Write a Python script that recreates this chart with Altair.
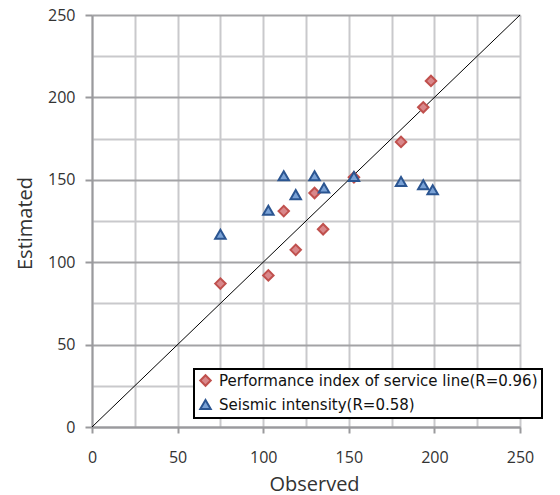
import altair as alt
import pandas as pd

series_names = ["Performance index of service line(R=0.96)", "Seismic intensity(R=0.58)"]
perf_observed = [75, 103, 112, 119, 130, 135, 153, 180.5, 193.5, 198]
perf_estimated = [87, 92, 131, 107.5, 142, 120, 151.5, 173, 194, 210]
seis_observed = [75, 103, 112, 119, 130, 135.5, 153, 180.5, 193.5, 199]
seis_estimated = [117, 131.5, 152.5, 141, 152.5, 145, 152, 149, 147, 144]
diag_line = [0, 250]
grid_values = [0, 25, 50, 75, 100, 125, 150, 175, 200, 225, 250]

shapes = ["diamond", "triangle-up"]
fills = ["#d9878a", "#7aa2d6"]
strokes = ["#c0504d", "#2b5591"]

rows = []
for o, e in zip(perf_observed, perf_estimated):
    rows.append({"Observed": o, "Estimated": e, "series": series_names[0]})
for o, e in zip(seis_observed, seis_estimated):
    rows.append({"Observed": o, "Estimated": e, "series": series_names[1]})
df = pd.DataFrame(rows)
df_diag = pd.DataFrame({"Observed": diag_line, "Estimated": diag_line})

major = "datum.value % 50 === 0"

x_axis = alt.Axis(
    values=grid_values,
    labelExpr=f"{major} ? datum.label : ''",
    tickOpacity={"condition": {"test": major, "value": 1}, "value": 0},
    gridColor="#c9c9cc",
    tickSize=6,
    labelPadding=16,
    labelFlush=False,
    titleX=222,
    titleY=63,
    titleBaseline="alphabetic",
    title="Observed",
)
y_axis = alt.Axis(
    values=grid_values,
    labelExpr=f"{major} ? datum.label : ''",
    tickOpacity={"condition": {"test": major, "value": 1}, "value": 0},
    gridColor={"condition": {"test": major, "value": "#a3a3a6"}, "value": "#c9c9cc"},
    tickSize=7,
    labelPadding=10,
    labelFlush=False,
    titleX=-61,
    titleY=208,
    titleBaseline="alphabetic",
    titleAngle=270,
    title="Estimated",
)

xs = alt.Scale(domain=[0, 250], nice=False)
ys = alt.Scale(domain=[0, 250], nice=False)

line = alt.Chart(df_diag).mark_line(color="black", strokeWidth=1).encode(
    x=alt.X("Observed:Q", scale=xs, axis=x_axis),
    y=alt.Y("Estimated:Q", scale=ys, axis=y_axis),
)

legend = alt.Legend(
    title=None,
    orient="none",
    legendX=102,
    legendY=354,
    labelFontSize=15,
    labelFont="DejaVu Sans",
    labelColor="#111111",
    labelLimit=600,
    symbolSize=110,
    symbolStrokeWidth=2,
    rowPadding=5,
    padding=4,
    labelOffset=6,
    fillColor="white",
    strokeColor="black",
)

points = alt.Chart(df).mark_point(filled=True, size=110, strokeWidth=2, opacity=1, fillOpacity=1).encode(
    x=alt.X("Observed:Q", scale=xs, axis=x_axis),
    y=alt.Y("Estimated:Q", scale=ys, axis=y_axis),
    shape=alt.Shape("series:N", scale=alt.Scale(domain=series_names, range=shapes), legend=legend),
    fill=alt.Fill("series:N", scale=alt.Scale(domain=series_names, range=fills), legend=legend),
    stroke=alt.Stroke("series:N", scale=alt.Scale(domain=series_names, range=strokes), legend=legend),
)

chart = (
    alt.layer(line, points)
    .properties(
        width=428,
        height=412,
        padding={"left": 84, "top": 7, "right": 32, "bottom": 68},
        autosize=alt.AutoSizeParams(type="none"),
        background="white",
    )
    .configure_view(stroke="transparent")
    .configure_axis(
        labelFont="Open Sans",
        titleFont="Open Sans",
        labelFontSize=16,
        titleFontSize=20,
        titleFontWeight="normal",
        labelColor="#333333",
        titleColor="#333333",
        domainColor="#9a9a9d",
        domainWidth=2,
        tickColor="#9a9a9d",
        tickWidth=2,
        gridWidth=2,
        gridOpacity=1,
    )
    .configure_legend(strokeWidth=2)
)

chart.save("out.html", embed_options={"renderer": "svg", "actions": False})
